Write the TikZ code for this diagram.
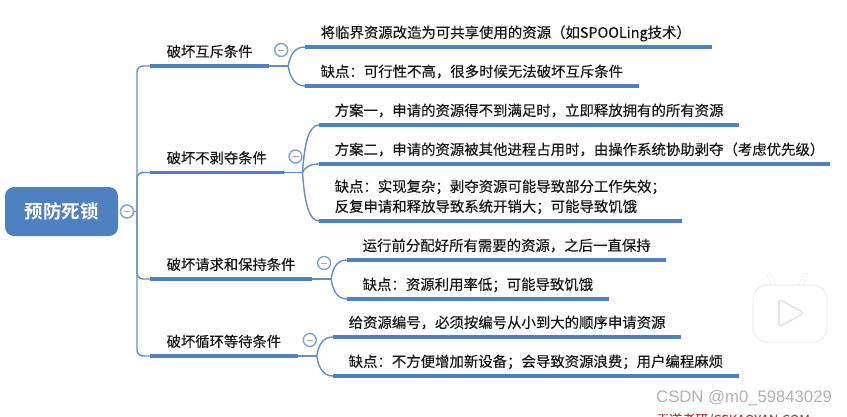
\documentclass[tikz,border=0pt]{standalone}
\usepackage{fontspec}
\setmainfont{Noto Sans CJK SC}[FakeBold=0.2]
\newfontfamily\rootfont{Noto Sans CJK SC Bold}
\newfontfamily\wmfont{Liberation Sans}
\definecolor{mapBlue}{RGB}{79,129,193}
\definecolor{mapLine}{RGB}{96,143,203}
\definecolor{mapRing}{RGB}{125,162,212}
\definecolor{mapText}{RGB}{22,22,22}
\definecolor{markRed}{RGB}{178,70,50}
\tikzset{
  rootbox/.style={rectangle, rounded corners=9pt, fill=mapBlue, text=white, minimum width=113pt, minimum height=49pt, inner sep=0pt, font=\rootfont\fontsize{18.5}{22}\selectfont},
  topicbox/.style={anchor=south west, inner xsep=16.5pt, inner ysep=6pt, text height=11pt, text depth=3pt, text=mapText, font=\fontsize{14.3}{20}\selectfont},
  leafbox/.style={anchor=south west, align=left, inner xsep=15.5pt, inner ysep=6pt, text height=11pt, text depth=3pt, text=mapText, font=\fontsize{14.4}{20}\selectfont},
  uline/.style={draw=mapBlue, line width=3.2pt},
  link/.style={draw=mapLine, line width=1.4pt},
  toggle/.style={circle, draw=mapRing, fill=white, line width=1.4pt, minimum size=13pt, inner sep=0pt,
    path picture={\draw[gray!70, line width=1pt] ([xshift=-3pt]path picture bounding box.center) -- ([xshift=3pt]path picture bounding box.center);}},
}
\begin{document}
\begin{tikzpicture}[x=1pt, y=-1pt]
\path[use as bounding box, fill=white] (0,0) rectangle (847,416);
%% ── Root and trunk ───────────────────────────────────────────────────────
\node[rootbox] (root) at (61.5,211.5) {预防死锁};
\node[toggle] (rootTg) at (127,211.5) {};
\coordinate (trunk) at (137,211.5);
%% ── Topics ───────────────────────────────────────────────────────────────
\node[topicbox] (mutex) at (150,66) {破坏互斥条件};
\node[topicbox] (preempt) at (150,172.5) {破坏不剥夺条件};
\node[topicbox] (hold) at (150,279) {破坏请求和保持条件};
\node[topicbox] (cycle) at (150,356) {破坏循环等待条件};
%% ── Leaves of the first topic ────────────────────────────────────────────
\node[leafbox, text width=376pt] (mutexA) at (305,47) {将临界资源改造为可共享使用的资源（如SPOOLing技术）};
\node[leafbox] (mutexB) at (305,86) {缺点：可行性不高，很多时候无法破坏互斥条件};
%% ── Leaves of the second topic ───────────────────────────────────────────
\node[leafbox] (preemptA) at (319,125) {方案一，申请的资源得不到满足时，立即释放拥有的所有资源};
\node[leafbox, text width=480pt] (preemptB) at (319,164) {方案二，申请的资源被其他进程占用时，由操作系统协助剥夺（考虑优先级）};
\node[leafbox] (preemptC) at (319,221) {缺点：实现复杂；剥夺资源可能导致部分工作失效；\\反复申请和释放导致系统开销大；可能导致饥饿};
%% ── Leaves of the third topic ────────────────────────────────────────────
\node[leafbox] (holdA) at (347,260) {运行前分配好所有需要的资源，之后一直保持};
\node[leafbox] (holdB) at (347,299) {缺点：资源利用率低；可能导致饥饿};
%% ── Leaves of the fourth topic ───────────────────────────────────────────
\node[leafbox] (cycleA) at (333,337) {给资源编号，必须按编号从小到大的顺序申请资源};
\node[leafbox] (cycleB) at (333,376) {缺点：不方便增加新设备；会导致资源浪费；用户编程麻烦};
%% ── Underlines ───────────────────────────────────────────────────────────
\foreach \nd in {mutex,preempt,hold,cycle,mutexA,mutexB,preemptA,preemptB,preemptC,holdA,holdB,cycleA,cycleB}
  \draw[uline] (\nd.south west) -- (\nd.south east);
%% ── Trunk connectors ─────────────────────────────────────────────────────
\draw[link] (rootTg.east) -- (trunk);
\draw[link, rounded corners=6pt] (trunk) |- (mutex.south west);
\draw[link, rounded corners=6pt] (trunk) |- (preempt.south west);
\draw[link, rounded corners=6pt] (trunk) |- (hold.south west);
\draw[link, rounded corners=6pt] (trunk) |- (cycle.south west);
%% ── Topic stubs and toggles ──────────────────────────────────────────────
\coordinate (mutexJ) at ([xshift=19pt]mutex.south east);
\coordinate (preemptJ) at ([xshift=19pt]preempt.south east);
\coordinate (holdJ) at ([xshift=19pt]hold.south east);
\coordinate (cycleJ) at ([xshift=19pt]cycle.south east);
\draw[link] (mutex.south east) -- (mutexJ);
\draw[link] (preempt.south east) -- (preemptJ);
\draw[link] (hold.south east) -- (holdJ);
\draw[link] (cycle.south east) -- (cycleJ);
\node[toggle] (mutexTg) at ([xshift=12pt, yshift=16pt]mutex.south east) {};
\node[toggle] (preemptTg) at ([xshift=12pt, yshift=16pt]preempt.south east) {};
\node[toggle] (holdTg) at ([xshift=12pt, yshift=16pt]hold.south east) {};
\node[toggle] (cycleTg) at ([xshift=12pt, yshift=16pt]cycle.south east) {};
%% ── Curved connectors ────────────────────────────────────────────────────
\draw[link] (mutexJ) .. controls +(2,-13) and +(-9,0) .. (mutexA.south west);
\draw[link] (mutexJ) .. controls +(2,13) and +(-9,0) .. (mutexB.south west);
\draw[link] (preemptJ) .. controls +(2,-30) and +(-10,0) .. (preemptA.south west);
\draw[link] (preemptJ) .. controls +(2,-5) and +(-9,0) .. (preemptB.south west);
\draw[link] (preemptJ) .. controls +(2,30) and +(-10,0) .. (preemptC.south west);
\draw[link] (holdJ) .. controls +(2,-13) and +(-9,0) .. (holdA.south west);
\draw[link] (holdJ) .. controls +(2,13) and +(-9,0) .. (holdB.south west);
\draw[link] (cycleJ) .. controls +(2,-13) and +(-9,0) .. (cycleA.south west);
\draw[link] (cycleJ) .. controls +(2,13) and +(-9,0) .. (cycleB.south west);
%% ── Play badge ───────────────────────────────────────────────────────────
\draw[gray!14, line width=4.6pt, line cap=round] (774,286) -- (769,275);
\draw[gray!14, line width=4.6pt, line cap=round] (800,286) -- (806,275);
\draw[white, line width=3.4pt, line cap=round] (774,286) -- (769,275);
\draw[white, line width=3.4pt, line cap=round] (800,286) -- (806,275);
\draw[rounded corners=14pt, fill=white, draw=gray!14, line width=1pt] (753,285) rectangle (827,342);
\draw[rounded corners=3pt, fill=white, draw=gray!20, line width=1.6pt] (779,299) -- (804,313) -- (779,327) -- cycle;
%% ── Watermark lines ──────────────────────────────────────────────────────
\node[anchor=west, inner sep=0pt, text=gray!60, font=\wmfont\fontsize{16.7}{18}\selectfont] (mark) at (656,398) {CSDN @m0\_59843029};
\node[anchor=west, inner sep=0pt, text=markRed, font=\fontsize{13}{16}\selectfont] (source) at (656,420) {王道考研/CSKAOYAN.COM};
\end{tikzpicture}
\end{document}
